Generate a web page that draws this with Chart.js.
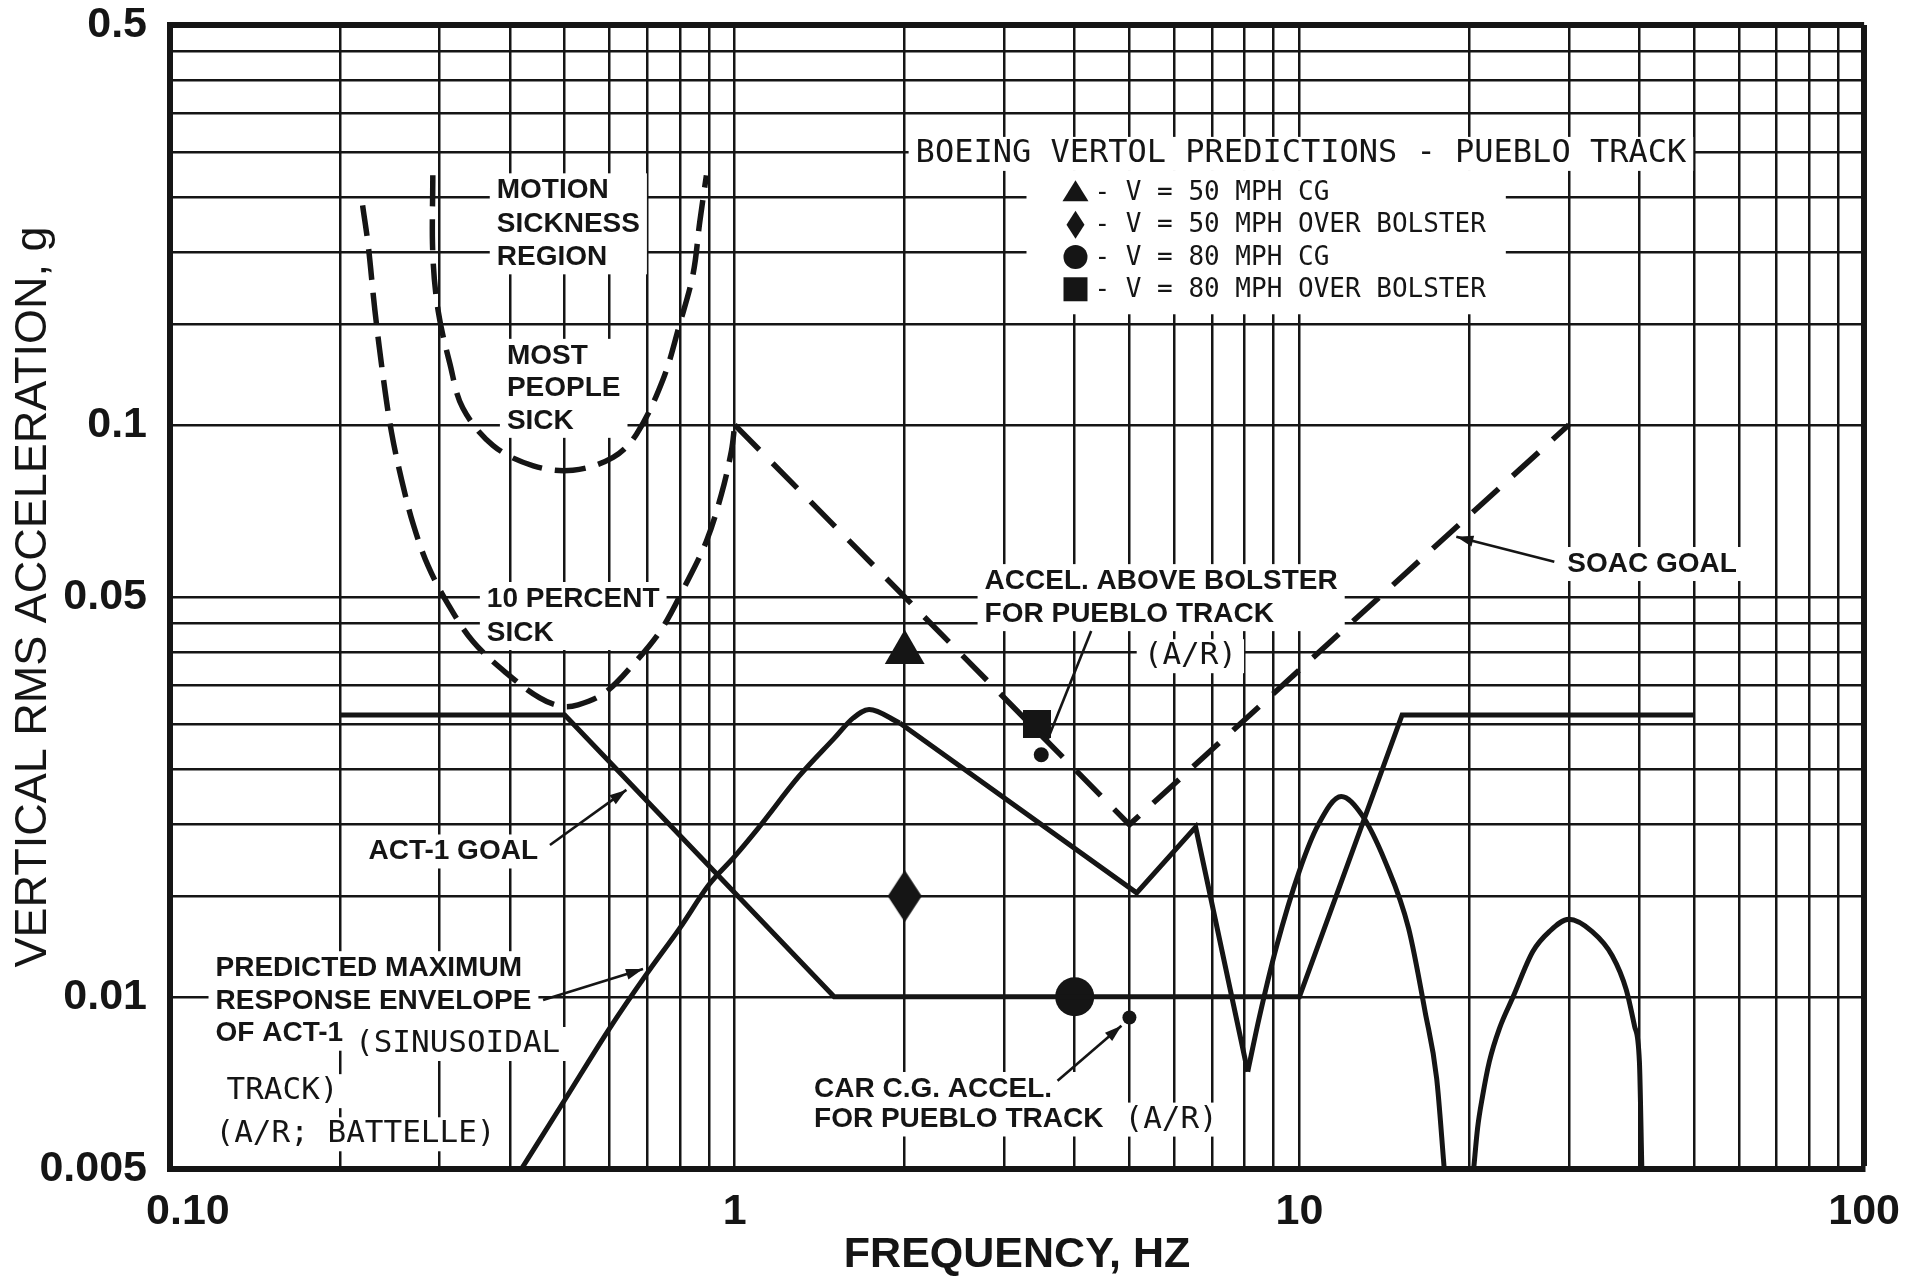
<!DOCTYPE html>
<html>
<head>
<meta charset="utf-8">
<title>Vertical RMS acceleration vs frequency</title>
<script src="https://cdn.jsdelivr.net/npm/chart.js@4.4.1/dist/chart.umd.min.js"></script>
<style>
  html, body { margin: 0; padding: 0; background: #fff; }
  #wrap { width: 1922px; height: 1280px; }
</style>
</head>
<body>
<div id="wrap"><canvas id="ride" width="1922" height="1280"></canvas></div>
<script>
// log paper rulings and the labelled ticks
const X_GRID = [0.1,0.2,0.3,0.4,0.5,0.6,0.7,0.8,0.9,1,2,3,4,5,6,7,8,9,10,20,30,40,50,60,70,80,90,100];
const Y_GRID = [0.005,0.01,0.015,0.02,0.025,0.03,0.035,0.04,0.045,0.05,0.1,0.15,0.2,0.25,0.3,0.35,0.4,0.45,0.5];
const X_LABEL_AT = [0.1, 1, 10, 100];
const X_LABEL_TEXT = ['   0.10', '1', '10', '100'];
const Y_LABEL_AT = [0.005, 0.01, 0.05, 0.1, 0.5];
const Y_LABEL_TEXT = ['0.005', '0.01', '0.05', '0.1', '0.5'];

// curves, [frequency Hz, acceleration g]
const SICK_10_PERCENT = [[0.2193,0.2418],[0.2244,0.2058],[0.2306,0.1584],[0.2392,0.1186],[0.2468,0.0969],
  [0.257,0.0803],[0.2696,0.067],[0.2866,0.0566],[0.311,0.0485],[0.344,0.0418],[0.3943,0.0368],
  [0.4517,0.0333],[0.4935,0.0322],[0.528,0.0324],[0.5887,0.034],[0.6607,0.0381],[0.7417,0.0439],
  [0.8158,0.0522],[0.891,0.0626],[0.9472,0.0756],[0.9866,0.09],[1,0.1]];
const MOST_PEOPLE_SICK = [[0.292,0.273],[0.292,0.199],[0.2985,0.158],[0.313,0.128],[0.330,0.107],
  [0.3735,0.092],[0.44,0.0848],[0.517,0.0833],[0.609,0.0877],[0.67,0.0963],[0.7465,0.120],
  [0.799,0.150],[0.844,0.1836],[0.867,0.226],[0.891,0.273]];
const SOAC_GOAL = [[1,0.1],[2,0.05],[5,0.02],[30,0.1]];
const ACT1_GOAL = [[0.2,0.0311],[0.5,0.0311],[1.5,0.01],[10,0.01],[15.2,0.0311],[50,0.0311]];
const ENVELOPE_RISE = [[0.419,0.005],[0.5,0.0066],[0.6,0.0088],[0.7,0.011],[0.8,0.0132],[0.9,0.0157],
  [1.0,0.0176],[1.1,0.0197],[1.3,0.0243],[1.5,0.0283],[1.62,0.0307],[1.73,0.0318],[1.96,0.0301]];
const ENVELOPE_NOTCH = [[1.96,0.0301],[5.15,0.0152],[6.55,0.0198],[8.1,0.0074]];
const ENVELOPE_LOBE_1 = [[8.1,0.0074],[8.49,0.0092],[9.1,0.0122],[10,0.0166],[10.8,0.020],[11.86,0.0224],
  [12.9,0.0208],[14.2,0.0172],[15.6,0.0132],[16.7,0.0094],[17.5,0.0072],[18.05,0.005]];
const ENVELOPE_LOBE_2 = [[20.35,0.005],[20.68,0.0059],[21.1,0.0067],[21.69,0.0077],[22.6,0.0088],[23.9,0.01],
  [25.9,0.012],[27.7,0.013],[30,0.01366],[33,0.013],[35.8,0.0118],[37.9,0.0103],[39.2,0.0089],
  [40.0,0.0077],[40.4,0.005]];

// Boeing Vertol predictions and A/R points
const V50_CG = [[2, 0.04]];
const V50_BOLSTER = [[2, 0.015]];
const V80_CG = [[4, 0.01]];
const V80_BOLSTER = [[3.43, 0.030]];
const AR_ABOVE_BOLSTER = [[3.49, 0.0265]];
const AR_CAR_CG = [[5, 0.0092]];
const KEY_LABELS = ['- V = 50 MPH CG', '- V = 50 MPH OVER BOLSTER', '- V = 80 MPH CG', '- V = 80 MPH OVER BOLSTER'];

const INK = '#151515';
const SANS = "'Liberation Sans', Arial, Helvetica, sans-serif";
const MONO = "'DejaVu Sans Mono', 'Liberation Mono', monospace";
const LABEL_FONT = 'bold 28px ' + SANS;
const TYPE_FONT = '31px ' + MONO;

// text placed on the paper, anchored in data space (left edge, first line middle)
const NOTES = [
  {text: ['MOTION', 'SICKNESS', 'REGION'], at: [0.379, 0.257], font: LABEL_FONT, step: 33.5},
  {text: ['MOST', 'PEOPLE', 'SICK'], at: [0.395, 0.132], font: LABEL_FONT, step: 32.5},
  {text: ['10 PERCENT', 'SICK'], at: [0.364, 0.0496], font: LABEL_FONT, step: 34},
  {text: ['ACT-1 GOAL'], at: [0.2246, 0.01795], font: LABEL_FONT},
  {text: ['PREDICTED MAXIMUM', 'RESPONSE ENVELOPE', 'OF ACT-1'], at: [0.1204, 0.01122], font: LABEL_FONT, step: 32.75},
  {text: ['(SINUSOIDAL'], at: [0.2126, 0.00827], font: TYPE_FONT},
  {text: ['TRACK)'], at: [0.1259, 0.00684], font: TYPE_FONT},
  {text: ['(A/R; BATTELLE)'], at: [0.1204, 0.00575], font: TYPE_FONT},
  {text: ['CAR C.G. ACCEL.', 'FOR PUEBLO TRACK'], at: [1.382, 0.0069], font: LABEL_FONT, step: 30.5},
  {text: ['(A/R)'], at: [4.90, 0.0061], font: TYPE_FONT},
  {text: ['ACCEL. ABOVE BOLSTER', 'FOR PUEBLO TRACK'], at: [2.77, 0.0533], font: LABEL_FONT, step: 33},
  {text: ['(A/R)'], at: [5.30, 0.0394], font: TYPE_FONT},
  {text: ['SOAC GOAL'], at: [29.8, 0.0571], font: LABEL_FONT},
  {text: ['BOEING VERTOL PREDICTIONS - PUEBLO TRACK'], at: [2.091, 0.2976], font: '32px ' + MONO}
];

const ARROWS = [
  {from: [0.4708, 0.01843], to: [0.643, 0.023], head: true},
  {from: [0.4578, 0.00987], to: [0.688, 0.01118], head: true},
  {from: [28.27, 0.0576], to: [18.96, 0.0637], head: true},
  {from: [4.278, 0.0436], to: [3.562, 0.02777], head: false},
  {from: [3.73, 0.00713], to: [4.84, 0.0089], head: true}
];

const KEY = {at: [4.013, 0.2549], step: 32.3, gap: 19, font: '26px ' + MONO,
  marks: ['triangle', 'diamond', 'circle', 'square']};

function toPixel(chart, p) {
  return [chart.scales.x.getPixelForValue(p[0]), chart.scales.y.getPixelForValue(p[1])];
}

function labelAt(values, texts, v) {
  const i = values.findIndex(t => Math.abs(t - v) / t < 1e-6);
  return i < 0 ? '' : texts[i];
}

function diamondImage(w, h) {
  const c = document.createElement('canvas');
  c.width = w;
  c.height = h;
  const g = c.getContext('2d');
  g.fillStyle = INK;
  g.beginPath();
  g.moveTo(w / 2, 0);
  g.lineTo(w, h / 2);
  g.lineTo(w / 2, h);
  g.lineTo(0, h / 2);
  g.closePath();
  g.fill();
  return c;
}

function drawMark(ctx, kind, x, y) {
  ctx.beginPath();
  if (kind === 'triangle') {
    ctx.moveTo(x, y - 12); ctx.lineTo(x + 13, y + 9); ctx.lineTo(x - 13, y + 9);
  } else if (kind === 'diamond') {
    ctx.moveTo(x, y - 14); ctx.lineTo(x + 9, y); ctx.lineTo(x, y + 14); ctx.lineTo(x - 9, y);
  } else if (kind === 'circle') {
    ctx.arc(x, y, 12, 0, Math.PI * 2);
  } else {
    ctx.rect(x - 12, y - 12, 24, 24);
  }
  ctx.closePath();
  ctx.fill();
}

function keyLayout(chart) {
  const ctx = chart.ctx;
  const [mx, my] = toPixel(chart, KEY.at);
  ctx.font = KEY.font;
  const widest = Math.max(...KEY_LABELS.map(t => ctx.measureText(t).width));
  const last = my + KEY.step * (KEY_LABELS.length - 1);
  return {mx, my, tx: mx + KEY.gap,
    box: {x: mx - 49, y: my - 22, w: KEY.gap + widest + 69, h: last - my + 47}};
}

function noteBoxes(chart) {
  const ctx = chart.ctx;
  const boxes = NOTES.map(n => {
    ctx.font = n.font;
    const [x, y] = toPixel(chart, n.at);
    const w = Math.max(...n.text.map(t => ctx.measureText(t).width));
    const h = (n.step || 0) * (n.text.length - 1);
    return {x: x - 7, y: y - 17, w: w + 14, h: h + 34};
  });
  boxes.push(keyLayout(chart).box);
  return boxes;
}

function drawArrow(ctx, a, b, head) {
  ctx.lineWidth = 2.6;
  ctx.beginPath();
  ctx.moveTo(a[0], a[1]);
  ctx.lineTo(b[0], b[1]);
  ctx.stroke();
  if (!head) return;
  const ang = Math.atan2(b[1] - a[1], b[0] - a[0]);
  const len = 17, half = 5.5;
  ctx.beginPath();
  ctx.moveTo(b[0], b[1]);
  ctx.lineTo(b[0] - len * Math.cos(ang) + half * Math.sin(ang), b[1] - len * Math.sin(ang) - half * Math.cos(ang));
  ctx.lineTo(b[0] - len * Math.cos(ang) - half * Math.sin(ang), b[1] - len * Math.sin(ang) + half * Math.cos(ang));
  ctx.closePath();
  ctx.fill();
}

const paperNotes = {
  id: 'paperNotes',
  beforeDatasetsDraw(chart) {
    const ctx = chart.ctx;
    ctx.save();
    ctx.fillStyle = '#ffffff';
    noteBoxes(chart).forEach(b => ctx.fillRect(b.x, b.y, b.w, b.h));
    ctx.restore();
  },
  afterDatasetsDraw(chart) {
    const ctx = chart.ctx;
    ctx.save();
    ctx.fillStyle = INK;
    ctx.strokeStyle = INK;
    ctx.textAlign = 'left';
    ctx.textBaseline = 'middle';
    NOTES.forEach(n => {
      ctx.font = n.font;
      const [x, y] = toPixel(chart, n.at);
      n.text.forEach((t, i) => ctx.fillText(t, x, y + i * (n.step || 0)));
    });
    ARROWS.forEach(a => drawArrow(ctx, toPixel(chart, a.from), toPixel(chart, a.to), a.head));

    const key = keyLayout(chart);
    ctx.font = KEY.font;
    KEY_LABELS.forEach((t, i) => {
      const y = key.my + i * KEY.step;
      drawMark(ctx, KEY.marks[i], key.mx, y);
      ctx.fillText(t, key.tx, y + 1);
    });
    ctx.restore();
  }
};

function curve(data, extra) {
  return Object.assign({
    data: data.map(([x, y]) => ({x, y})),
    showLine: true,
    borderColor: INK,
    borderWidth: 5,
    pointRadius: 0,
    fill: false,
    tension: 0
  }, extra);
}

function marker(label, data, style, radius) {
  return {
    label: label,
    data: data.map(([x, y]) => ({x, y})),
    showLine: false,
    pointStyle: style,
    pointRadius: radius,
    pointBackgroundColor: INK,
    pointBorderColor: INK,
    pointBorderWidth: 0
  };
}

const tickFont = {family: SANS, size: 43, weight: 'bold', lineHeight: 1};

new Chart(document.getElementById('ride'), {
  type: 'scatter',
  data: {
    datasets: [
      curve(SICK_10_PERCENT, {label: '10 percent sick', borderDash: [31, 13], borderWidth: 5.5, tension: 0.35}),
      curve(MOST_PEOPLE_SICK, {label: 'Most people sick', borderDash: [31, 13], borderWidth: 5.5, tension: 0.35}),
      curve(SOAC_GOAL, {label: 'SOAC goal', borderDash: [35, 19], borderWidth: 5.5}),
      curve(ACT1_GOAL, {label: 'ACT-1 goal'}),
      curve(ENVELOPE_RISE, {label: 'Predicted envelope', cubicInterpolationMode: 'monotone'}),
      curve(ENVELOPE_NOTCH, {label: 'Predicted envelope'}),
      curve(ENVELOPE_LOBE_1, {label: 'Predicted envelope', cubicInterpolationMode: 'monotone'}),
      curve(ENVELOPE_LOBE_2, {label: 'Predicted envelope', cubicInterpolationMode: 'monotone'}),
      marker('V = 50 MPH CG', V50_CG, 'triangle', 23),
      marker('V = 50 MPH OVER BOLSTER', V50_BOLSTER, diamondImage(34, 52), 20),
      marker('V = 80 MPH CG', V80_CG, 'circle', 19.5),
      marker('V = 80 MPH OVER BOLSTER', V80_BOLSTER, 'rect', 19.8),
      marker('Accel. above bolster (A/R)', AR_ABOVE_BOLSTER, 'circle', 7.5),
      marker('Car C.G. accel. (A/R)', AR_CAR_CG, 'circle', 7)
    ]
  },
  options: {
    responsive: false,
    devicePixelRatio: 1,
    animation: false,
    layout: {padding: {left: 0, right: 57, top: 25, bottom: 0}},
    plugins: {legend: {display: false}, tooltip: {enabled: false}},
    scales: {
      x: {
        type: 'logarithmic',
        min: 0.1,
        max: 100,
        afterBuildTicks: s => { s.ticks = X_GRID.map(v => ({value: v})); },
        afterFit: s => { s.height = 111; },
        ticks: {
          autoSkip: false,
          maxRotation: 0,
          padding: 22,
          color: INK,
          font: tickFont,
          callback: v => labelAt(X_LABEL_AT, X_LABEL_TEXT, v)
        },
        grid: {
          drawTicks: false,
          color: INK,
          lineWidth: c => (c.tick && c.tick.value === 100 ? 6 : 2.5)
        },
        border: {color: INK, width: 6},
        title: {
          display: true,
          text: 'FREQUENCY, HZ',
          color: INK,
          font: {family: SANS, size: 43, weight: 'bold', lineHeight: 1},
          padding: {top: 0, bottom: 3}
        }
      },
      y: {
        type: 'logarithmic',
        min: 0.005,
        max: 0.5,
        afterBuildTicks: s => { s.ticks = Y_GRID.map(v => ({value: v})); },
        afterFit: s => {
          s.width = 170;
          // the label gap is horizontal only; keep it out of the top/bottom padding
          s.paddingTop = 22;
          s.paddingBottom = 22;
        },
        ticks: {
          autoSkip: false,
          padding: 23,
          color: INK,
          font: tickFont,
          callback: v => labelAt(Y_LABEL_AT, Y_LABEL_TEXT, v)
        },
        grid: {
          drawTicks: false,
          color: INK,
          lineWidth: c => (c.tick && c.tick.value === 0.5 ? 6 : 2.5)
        },
        border: {color: INK, width: 6},
        title: {
          display: true,
          text: 'VERTICAL RMS ACCELERATION, g',
          color: INK,
          font: {family: SANS, size: 45, weight: 'normal', lineHeight: 1.2},
          padding: {top: 7, bottom: 0}
        }
      }
    }
  },
  plugins: [paperNotes]
});
</script>
</body>
</html>
